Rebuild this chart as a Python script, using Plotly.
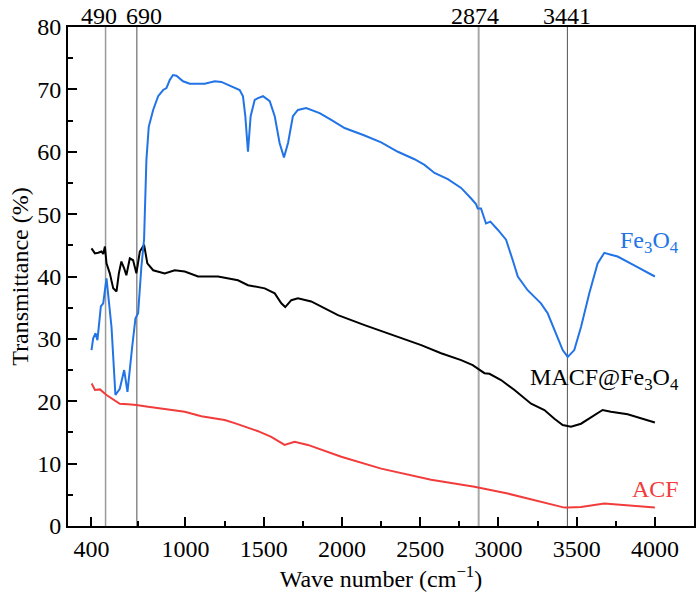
import plotly.graph_objects as go

# ---- data ----
fe_x = [400, 411, 426, 438, 460, 475, 496, 528, 553, 581, 609, 630, 660, 681, 698, 719, 736, 751, 766, 794,
        826, 858, 879, 900, 921, 943, 985, 1028, 1124, 1188, 1230, 1294, 1347, 1368, 1383, 1400, 1417, 1443,
        1464, 1496, 1539, 1571, 1602, 1630, 1656, 1687, 1719, 1772, 1858, 1932, 2017, 2145, 2251, 2358, 2464,
        2528, 2592, 2677, 2762, 2826, 2857, 2868, 2889, 2921, 2949, 2996, 3049, 3092, 3124, 3187, 3272, 3315,
        3358, 3411, 3443, 3485, 3528, 3581, 3634, 3677, 3719, 3762, 3868, 4000]
fe_y = [28.2, 30.1, 30.9, 29.8, 35.2, 35.7, 39.7, 31.9, 21.0, 22.0, 25.0, 21.5, 28.7, 33.3, 34.1, 41.6, 45.9, 58.7, 64.0, 66.7,
        68.9, 69.9, 70.2, 71.5, 72.3, 72.2, 71.3, 70.9, 70.9, 71.3, 71.2, 70.5, 69.9, 68.9, 65.7, 60.0, 65.7, 68.3,
        68.6, 68.9, 68.1, 65.7, 61.4, 59.1, 61.4, 65.7, 66.7, 67.0, 66.2, 65.1, 63.8, 62.6, 61.5, 60.0, 58.8,
        57.9, 56.6, 55.6, 54.2, 52.5, 51.6, 50.9, 50.9, 48.5, 48.8, 47.5, 45.9, 42.6, 40.0, 37.8, 35.7, 34.1,
        31.4, 28.2, 27.1, 28.2, 31.9, 37.3, 42.1, 43.8, 43.5, 43.2, 41.8, 40.0]

macf_x = [400, 422, 443, 464, 475, 486, 496, 517, 539, 560, 575, 591, 609, 623, 645, 666, 687, 709, 736, 757,
          794, 826, 868, 932, 996, 1081, 1209, 1336, 1400, 1507, 1571, 1613, 1638, 1677, 1719, 1804, 1975, 2145,
          2358, 2507, 2634, 2762, 2836, 2868, 2911, 2943, 3017, 3103, 3209, 3294, 3358, 3411, 3464, 3528, 3613,
          3666, 3719, 3826, 4000]
macf_y = [44.5, 43.7, 43.8, 44.0, 43.6, 44.8, 42.1, 40.5, 38.1, 37.6, 40.5, 42.4, 41.3, 40.2, 42.9, 42.6, 40.5, 44.0, 45.1, 42.1,
          41.0, 40.8, 40.5, 41.0, 40.8, 40.0, 40.0, 39.4, 38.6, 38.1, 37.3, 35.7, 35.1, 36.2, 36.5, 36.0, 33.8, 32.2,
          30.3, 29.0, 27.7, 26.6, 25.8, 25.3, 24.5, 24.4, 23.4, 21.8, 19.6, 18.6, 17.2, 16.2, 15.9, 16.4, 17.8,
          18.6, 18.3, 17.9, 16.6]

acf_x = [400, 404, 422, 454, 496, 539, 581, 634, 687, 762, 868, 996, 1102, 1251, 1315, 1400, 1464, 1549, 1603,
         1634, 1698, 1783, 1996, 2251, 2570, 2847, 3060, 3272, 3422, 3443, 3528, 3677, 3847, 4000]
acf_y = [22.6, 22.7, 21.8, 21.9, 21.0, 20.3, 19.6, 19.5, 19.4, 19.1, 18.7, 18.3, 17.6, 17.0, 16.5, 15.8, 15.2, 14.3, 13.5,
         13.0, 13.5, 13.0, 11.1, 9.2, 7.4, 6.3, 5.2, 3.9, 2.95, 2.95, 3.05, 3.6, 3.3, 2.95]

ref_lines = [490, 690, 2874, 3441]
ref_labels = ["490", "690", "2874", "3441"]
ref_colors = ["#9a9a9a", "#505050", "#a8a8a8", "#505050"]
ref_widths = [1.5, 1.0, 2.0, 1.0]
ref_label_shift = [-7, 7, -4, 0]

x_ticks = [400, 1000, 1500, 2000, 2500, 3000, 3500, 4000]
x_minor = [700, 1250, 1750, 2250, 2750, 3250, 3750]

BLUE = "#2274e6"
RED = "#f23c3c"
FONT = "Liberation Serif"
FS = 24

fig = go.Figure()
fig.add_trace(go.Scatter(x=acf_x, y=acf_y, mode="lines", line=dict(color=RED, width=2), name="ACF"))
fig.add_trace(go.Scatter(x=macf_x, y=macf_y, mode="lines", line=dict(color="black", width=2), name="MACF@Fe3O4"))
fig.add_trace(go.Scatter(x=fe_x, y=fe_y, mode="lines", line=dict(color=BLUE, width=2), name="Fe3O4"))

for xv, lab, c, w, sh in zip(ref_lines, ref_labels, ref_colors, ref_widths, ref_label_shift):
    fig.add_shape(type="line", xref="x", yref="paper", x0=xv, x1=xv, y0=0, y1=1,
                  line=dict(color=c, width=w), layer="below")
    fig.add_annotation(x=xv, y=1, xref="x", yref="paper", text=lab, showarrow=False,
                       yanchor="bottom", xshift=sh, yshift=-4, font=dict(size=FS, color="black", family=FONT))

fig.add_annotation(x=4170, y=45.6, xref="x", yref="y", text="Fe<sub>3</sub>O<sub>4</sub>", showarrow=False,
                   xanchor="right", font=dict(size=FS, color=BLUE, family=FONT))
fig.add_annotation(x=4170, y=23.6, xref="x", yref="y", text="MACF@Fe<sub>3</sub>O<sub>4</sub>", showarrow=False,
                   xanchor="right", font=dict(size=FS, color="black", family=FONT))
fig.add_annotation(x=4170, y=6.0, xref="x", yref="y", text="ACF", showarrow=False,
                   xanchor="right", font=dict(size=FS, color=RED, family=FONT))

fig.update_layout(
    width=698, height=595,
    margin=dict(l=68, r=2, t=27, b=69),
    plot_bgcolor="white", paper_bgcolor="white",
    showlegend=False,
    font=dict(family=FONT, size=FS, color="black"),
)
fig.update_xaxes(
    range=[250, 4250], tickvals=x_ticks, ticks="inside", ticklen=9, tickwidth=2, tickcolor="black",
    showline=True, linewidth=2, linecolor="black", mirror=True, showgrid=False, zeroline=False,
    tickfont=dict(size=FS, family=FONT),
    minor=dict(tickvals=x_minor, ticks="inside", ticklen=5, tickwidth=2, tickcolor="black", showgrid=False),
    title=dict(text="Wave number (cm<sup>−1</sup>)", font=dict(size=FS, family=FONT), standoff=6),
)
fig.update_yaxes(
    range=[0, 80], dtick=10, ticks="inside", ticklen=9, tickwidth=2, tickcolor="black",
    showline=True, linewidth=2, linecolor="black", mirror=True, showgrid=False, zeroline=False,
    tickfont=dict(size=FS, family=FONT),
    minor=dict(dtick=5, ticks="inside", ticklen=5, tickwidth=2, tickcolor="black", showgrid=False),
    title=dict(text="Transmittance (%)", font=dict(size=FS, family=FONT), standoff=2),
)

fig.write_html("out.html")
